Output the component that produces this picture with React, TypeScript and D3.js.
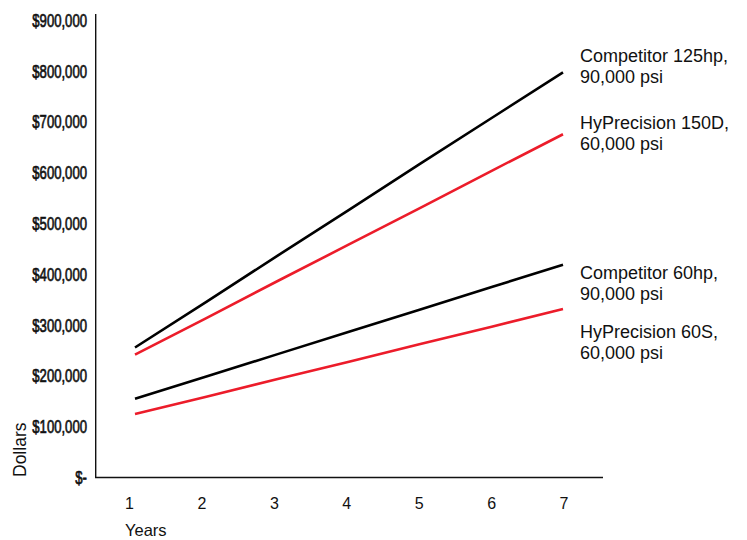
import React from "react";
import * as d3 from "d3";

const years = [1, 2, 3, 4, 5, 6, 7];
const yTicks = [0, 100000, 200000, 300000, 400000, 500000, 600000, 700000, 800000, 900000];
const competitor125 = [255000, 345000, 436000, 526000, 617000, 707000, 797000];
const hyPrecision150D = [241000, 313000, 386000, 458000, 530000, 603000, 675000];
const competitor60 = [154000, 198000, 242000, 286000, 330000, 374000, 418000];
const hyPrecision60S = [124000, 158000, 193000, 227000, 262000, 296000, 331000];
const seriesNames = [
  ["Competitor 125hp,", "90,000 psi"],
  ["HyPrecision 150D,", "60,000 psi"],
  ["Competitor 60hp,", "90,000 psi"],
  ["HyPrecision 60S,", "60,000 psi"],
];
const seriesValues = [competitor125, hyPrecision150D, competitor60, hyPrecision60S];
const seriesColors = ["#000000", "#ec1c2a", "#000000", "#ec1c2a"];

const W = 747;
const H = 540;
const labelBaselines = [62, 129, 279, 338];

export default function App() {
  const x = d3.scaleLinear().domain([1, 7]).range([135, 563]);
  const xLabel = d3.scaleLinear().domain([1, 7]).range([129.5, 564]);
  const y = d3.scaleLinear().domain([0, 900000]).range([477, 20]);
  const line = d3
    .line<number>()
    .x((_, i) => x(years[i]))
    .y((d) => y(d));
  const fmt = (v: number) => (v === 0 ? "$-" : "$" + d3.format(",")(v));
  const sans = "'Liberation Sans', Arial, Helvetica, sans-serif";
  return (
    <svg
      width={W}
      height={H}
      style={{ position: "absolute", left: 0, top: 0, background: "#fff" }}
    >
      <line x1={95.7} x2={95.7} y1={14} y2={478} stroke="#111" strokeWidth={1.4} />
      <line x1={95} x2={603} y1={477.5} y2={477.5} stroke="#111" strokeWidth={1.4} />
      {yTicks.map((t) => (
        <text
          key={t}
          transform={`translate(87,${y(t)}) scale(0.82,1.2)`}
          dy="0.36em"
          textAnchor="end"
          fontFamily={sans}
          fontSize={16}
          fill="#111"
          stroke="#111"
          strokeWidth={0.6}
        >
          {fmt(t)}
        </text>
      ))}
      {years.map((yr) => (
        <text
          key={yr}
          x={xLabel(yr)}
          y={509}
          textAnchor="middle"
          fontFamily={sans}
          fontSize={16}
          fill="#111"
        >
          {yr}
        </text>
      ))}
      <text x={125} y={536} fontFamily={sans} fontSize={16.5} fill="#111">
        Years
      </text>
      <text
        transform="translate(25.5,477) rotate(-90)"
        fontFamily={sans}
        fontSize={17.5}
        fill="#111"
      >
        Dollars
      </text>
      {seriesValues.map((vals, i) => (
        <path
          key={i}
          d={line(vals) || ""}
          fill="none"
          stroke={seriesColors[i]}
          strokeWidth={2.6}
        />
      ))}
      {seriesNames.map((lines, i) => (
        <text key={i} fontFamily={sans} fontSize={18} fill="#111">
          {lines.map((l, j) => (
            <tspan key={j} x={580} y={labelBaselines[i] + j * 20.7}>
              {l}
            </tspan>
          ))}
        </text>
      ))}
    </svg>
  );
}
